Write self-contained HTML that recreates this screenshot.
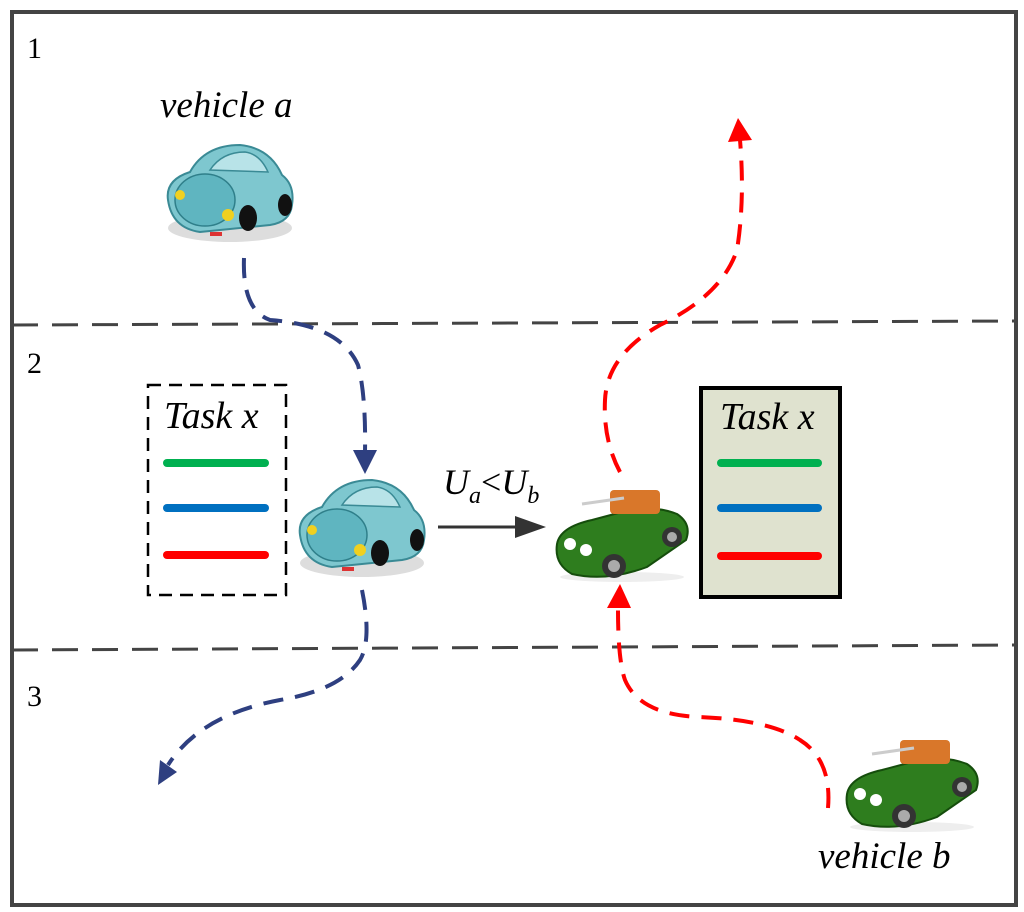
<!DOCTYPE html>
<html><head><meta charset="utf-8"><style>html,body{margin:0;padding:0;background:#fff}svg{display:block}</style></head><body>
<svg width="1024" height="912" viewBox="0 0 1024 912" xmlns="http://www.w3.org/2000/svg">
<defs>
<g id="beetle">
 <ellipse cx="70" cy="88" rx="62" ry="14" fill="#ddd"/>
 <path d="M8 60 Q5 40 30 32 Q45 5 80 5 Q110 8 122 35 Q135 45 132 65 Q130 82 110 85 L40 92 Q12 88 8 60Z" fill="#7ec7cf" stroke="#3a8a95" stroke-width="2"/>
 <path d="M50 30 Q62 12 85 12 Q100 14 108 32 Z" fill="#b8e3e8" stroke="#3a8a95" stroke-width="1.5"/>
 <ellipse cx="45" cy="60" rx="30" ry="26" fill="#5fb5c0" stroke="#2f7f8a" stroke-width="1.5"/>
 <circle cx="20" cy="55" r="5" fill="#f0d020"/>
 <circle cx="68" cy="75" r="6" fill="#f0d020"/>
 <ellipse cx="88" cy="78" rx="9" ry="13" fill="#111"/>
 <ellipse cx="125" cy="65" rx="7" ry="11" fill="#111"/>
 <rect x="50" y="92" width="12" height="4" fill="#d33"/>
</g>
<g id="roadster">
 <ellipse cx="70" cy="95" rx="62" ry="5" fill="#eee"/>
 <path d="M5 62 Q8 45 40 38 L70 30 Q100 22 125 32 Q140 42 134 58 L95 85 Q55 100 20 92 Q2 82 5 62Z" fill="#2e7d1e" stroke="#154d0c" stroke-width="2"/>
 <rect x="58" y="8" width="50" height="24" rx="4" fill="#d9772a"/>
 <path d="M30 22 L72 16" stroke="#ccc" stroke-width="3"/>
 <circle cx="18" cy="62" r="6" fill="#fff"/>
 <circle cx="34" cy="68" r="6" fill="#fff"/>
 <circle cx="62" cy="84" r="12" fill="#333"/><circle cx="62" cy="84" r="6" fill="#aaa"/>
 <circle cx="120" cy="55" r="10" fill="#333"/><circle cx="120" cy="55" r="5" fill="#aaa"/>
</g>
</defs>
<rect x="12" y="12" width="1004" height="893" fill="#fff" stroke="#444" stroke-width="4"/>
<line x1="12" y1="325" x2="1016" y2="321" stroke="#444" stroke-width="3" stroke-dasharray="26,14"/>
<line x1="12" y1="650" x2="1016" y2="645" stroke="#444" stroke-width="3" stroke-dasharray="26,14"/>
<g font-family="Liberation Serif, serif" font-size="30" fill="#000">
<text x="27" y="58">1</text><text x="27" y="373">2</text><text x="27" y="706">3</text>
</g>
<g font-family="Liberation Serif, serif" font-style="italic" font-size="37" fill="#000">
<text x="160" y="117">vehicle a</text>
<text x="818" y="868">vehicle b</text>
</g>
<use href="#beetle" x="160" y="140"/>
<use href="#beetle" x="292" y="475"/>
<use href="#roadster" x="552" y="482"/>
<use href="#roadster" x="842" y="732"/>
<g fill="none" stroke="#2e3f80" stroke-width="4" stroke-dasharray="20,12">
<path d="M244 258 Q242 310 270 320 Q340 325 358 365 Q366 395 365 452"/>
<path d="M362 590 Q372 640 360 660 Q340 690 280 700 Q200 715 168 765"/>
</g>
<path d="M353 450 L377 450 L365 474Z" fill="#2e3f80"/>
<path d="M158 785 L160 760 L177 772Z" fill="#2e3f80"/>
<g fill="none" stroke="#f00" stroke-width="4" stroke-dasharray="20,12">
<path d="M828 808 Q832 760 800 740 Q770 720 700 717 Q640 715 625 680 Q618 660 618 610"/>
<path d="M620 472 Q603 440 605 400 Q607 355 660 325 Q722 295 737 250 Q745 200 740 140"/>
</g>
<path d="M607 608 L631 608 L620 584Z" fill="#f00"/>
<path d="M728 142 L752 140 L738 118Z" fill="#f00"/>
<line x1="438" y1="527" x2="518" y2="527" stroke="#333" stroke-width="3"/>
<path d="M515 516 L546 527 L515 538Z" fill="#333"/>
<text x="443" y="494" font-family="Liberation Serif, serif" font-style="italic" font-size="36">U<tspan font-size="24" dy="9">a</tspan><tspan dy="-9" font-style="normal">&lt;</tspan>U<tspan font-size="24" dy="9">b</tspan></text>
<rect x="148" y="385" width="138" height="210" fill="none" stroke="#000" stroke-width="2.5" stroke-dasharray="13,8"/>
<text x="164" y="428" font-family="Liberation Serif, serif" font-style="italic" font-size="38">Task x</text>
<g stroke-width="8" stroke-linecap="round">
<line x1="167" y1="463" x2="265" y2="463" stroke="#00b050"/>
<line x1="167" y1="508" x2="265" y2="508" stroke="#0070c0"/>
<line x1="167" y1="555" x2="265" y2="555" stroke="#f00"/>
</g>
<rect x="701" y="388" width="139" height="209" fill="#dfe2cf" stroke="#000" stroke-width="4"/>
<text x="720" y="429" font-family="Liberation Serif, serif" font-style="italic" font-size="38">Task x</text>
<g stroke-width="8" stroke-linecap="round">
<line x1="721" y1="463" x2="818" y2="463" stroke="#00b050"/>
<line x1="721" y1="508" x2="818" y2="508" stroke="#0070c0"/>
<line x1="721" y1="556" x2="818" y2="556" stroke="#f00"/>
</g>
</svg>
</body></html>
